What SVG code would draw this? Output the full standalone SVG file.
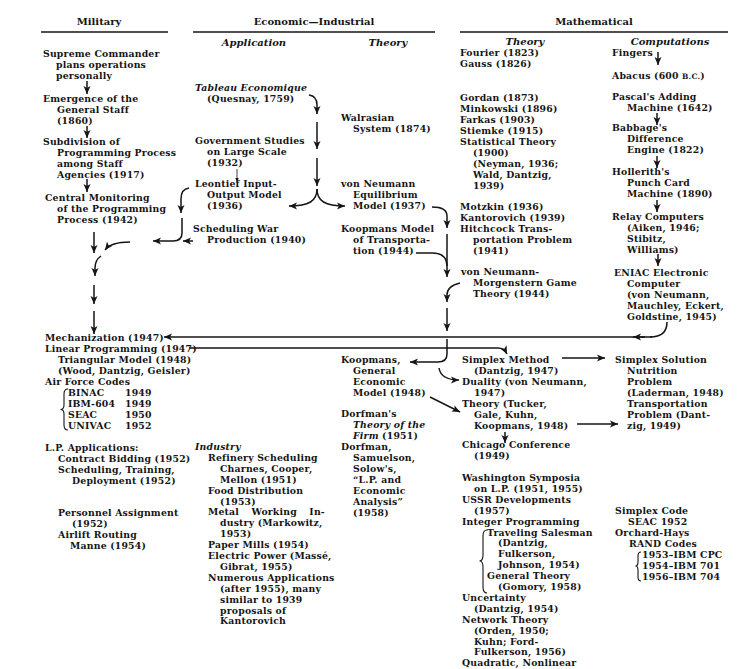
<svg xmlns="http://www.w3.org/2000/svg" width="749" height="669" viewBox="0 0 749 669">
<defs>
<style>
text{font-family:"DejaVu Serif","Liberation Serif",serif;fill:#151515}
.t{font-size:9.3px;font-weight:bold;letter-spacing:0.2px}
.h{font-size:10px;font-weight:bold}
.hi{font-size:10px;font-weight:bold;font-style:italic}
.i{font-style:italic}
.sc{font-size:7.5px}
.rule{stroke:#151515;stroke-width:1.3}
.c{fill:none;stroke:#151515;stroke-width:1.5;marker-end:url(#ah)}
.n{fill:none;stroke:#151515;stroke-width:1.5}
.thin{fill:none;stroke:#151515;stroke-width:0.8;marker-end:url(#ahs)}
.br{fill:none;stroke:#151515;stroke-width:1.1}
</style>
<marker id="ah" markerUnits="userSpaceOnUse" markerWidth="9" markerHeight="8" refX="8" refY="4" orient="auto"><path d="M0,0.5 L8,4 L0,7.5 L2,4 Z" fill="#151515"/></marker>
<marker id="ahs" markerUnits="userSpaceOnUse" markerWidth="5" markerHeight="4" refX="4.5" refY="2" orient="auto"><path d="M0,0 L4.5,2 L0,4 Z" fill="#151515"/></marker>
</defs>
<rect width="749" height="669" fill="#fff"/>

<g id="h-military"><text class="h" x="99" y="25" text-anchor="middle">Military</text><line class="rule" x1="41" y1="32" x2="168" y2="32"/></g>
<g id="h-economic"><text class="h" x="314" y="25" text-anchor="middle">Economic—Industrial</text><line class="rule" x1="193" y1="32" x2="435" y2="32"/>
<text class="hi" x="254" y="46" text-anchor="middle">Application</text><text class="hi" x="388" y="46" text-anchor="middle">Theory</text></g>
<g id="h-math"><text class="h" x="594" y="25" text-anchor="middle">Mathematical</text><line class="rule" x1="460" y1="32" x2="728" y2="32"/>
<text class="hi" x="525" y="44.5" text-anchor="middle">Theory</text><text class="hi" x="670" y="44.5" text-anchor="middle">Computations</text></g>

<g id="supreme"><text class="t" x="43" y="57">Supreme Commander</text><text class="t" x="56" y="68">plans operations</text><text class="t" x="56" y="79">personally</text></g>
<g id="general-staff"><text class="t" x="43" y="102">Emergence of the</text><text class="t" x="57" y="113">General Staff</text><text class="t" x="57" y="124">(1860)</text></g>
<g id="subdivision"><text class="t" x="43" y="145">Subdivision of</text><text class="t" x="57" y="156">Programming Process</text><text class="t" x="57" y="167">among Staff</text><text class="t" x="57" y="178">Agencies (1917)</text></g>
<g id="central"><text class="t" x="45" y="201">Central Monitoring</text><text class="t" x="57" y="212">of the Programming</text><text class="t" x="57" y="223">Process (1942)</text></g>

<g id="mechanization"><text class="t" x="45" y="341">Mechanization (1947)</text></g>
<g id="linear-programming"><text class="t" x="45" y="352">Linear Programming (1947)</text><text class="t" x="58" y="363">Triangular Model (1948)</text><text class="t" x="58" y="374">(Wood, Dantzig, Geisler)</text><text class="t" x="45" y="385">Air Force Codes</text>
<path class="br" d="M68,389 Q64,389 64,394 L64,405 Q64,409.5 60.5,409.5 Q64,409.5 64,414 L64,425 Q64,430 68,430"/>
<text class="t" x="68" y="396">BINAC</text><text class="t" x="125" y="396">1949</text>
<text class="t" x="68" y="407">IBM-604</text><text class="t" x="125" y="407">1949</text>
<text class="t" x="68" y="418">SEAC</text><text class="t" x="125" y="418">1950</text>
<text class="t" x="68" y="429">UNIVAC</text><text class="t" x="125" y="429">1952</text></g>
<g id="lp-applications"><text class="t" x="45" y="451">L.P. Applications:</text><text class="t" x="58" y="462">Contract Bidding (1952)</text><text class="t" x="58" y="473">Scheduling, Training,</text><text class="t" x="72" y="484">Deployment (1952)</text>
<text class="t" x="58" y="516">Personnel Assignment</text><text class="t" x="72" y="527">(1952)</text><text class="t" x="58" y="538">Airlift Routing</text><text class="t" x="70" y="549">Manne (1954)</text></g>

<g id="tableau"><text class="t i" x="195" y="91">Tableau Economique</text><text class="t" x="207" y="102">(Quesnay, 1759)</text></g>
<g id="gov-studies"><text class="t" x="195" y="144">Government Studies</text><text class="t" x="207" y="155">on Large Scale</text><text class="t" x="207" y="166">(1932)</text></g>
<g id="leontief"><text class="t" x="195" y="187">Leontief Input-</text><text class="t" x="207" y="198">Output Model</text><text class="t" x="207" y="209">(1936)</text></g>
<g id="war-production"><text class="t" x="193" y="232">Scheduling War</text><text class="t" x="207" y="243">Production (1940)</text></g>
<g id="industry"><text class="t i" x="195" y="450">Industry</text>
<text class="t" x="208" y="460.9">Refinery Scheduling</text><text class="t" x="220" y="471.8">Charnes, Cooper,</text><text class="t" x="220" y="482.7">Mellon (1951)</text>
<text class="t" x="208" y="493.6">Food Distribution</text><text class="t" x="220" y="504.5">(1953)</text>
<text class="t" x="208" y="515.4" word-spacing="9">Metal Working In-</text><text class="t" x="220" y="526.3">dustry (Markowitz,</text><text class="t" x="220" y="537.2">1953)</text>
<text class="t" x="208" y="548.1">Paper Mills (1954)</text>
<text class="t" x="208" y="559">Electric Power (Massé,</text><text class="t" x="220" y="569.9">Gibrat, 1955)</text>
<text class="t" x="208" y="580.8">Numerous Applications</text><text class="t" x="220" y="591.7">(after 1955), many</text><text class="t" x="220" y="602.6">similar to 1939</text><text class="t" x="220" y="613.5">proposals of</text><text class="t" x="220" y="624.4">Kantorovich</text></g>

<g id="walras"><text class="t" x="341" y="121">Walrasian</text><text class="t" x="353" y="132">System (1874)</text></g>
<g id="vn-equilibrium"><text class="t" x="341" y="187">von Neumann</text><text class="t" x="353" y="198">Equilibrium</text><text class="t" x="353" y="209">Model (1937)</text></g>
<g id="koopmans-transport"><text class="t" x="341" y="232">Koopmans Model</text><text class="t" x="353" y="243">of Transporta-</text><text class="t" x="353" y="254">tion (1944)</text></g>
<g id="koopmans-general"><text class="t" x="341" y="363">Koopmans,</text><text class="t" x="353" y="374">General</text><text class="t" x="353" y="385">Economic</text><text class="t" x="353" y="396">Model (1948)</text></g>
<g id="dorfman-firm"><text class="t" x="341" y="417">Dorfman's</text><text class="t i" x="353" y="428">Theory of the</text><text class="t" x="353" y="439"><tspan class="i">Firm</tspan> (1951)</text></g>
<g id="dorfman-lp"><text class="t" x="341" y="450">Dorfman,</text><text class="t" x="353" y="461">Samuelson,</text><text class="t" x="353" y="472">Solow's,</text><text class="t" x="353" y="483">“L.P. and</text><text class="t" x="353" y="494">Economic</text><text class="t" x="353" y="505">Analysis”</text><text class="t" x="353" y="516">(1958)</text></g>

<g id="fourier-gauss"><text class="t" x="460" y="56">Fourier (1823)</text><text class="t" x="460" y="67">Gauss (1826)</text></g>
<g id="gordan-statistical"><text class="t" x="460" y="101">Gordan (1873)</text><text class="t" x="460" y="112">Minkowski (1896)</text><text class="t" x="460" y="123">Farkas (1903)</text><text class="t" x="460" y="134">Stiemke (1915)</text><text class="t" x="460" y="145">Statistical Theory</text><text class="t" x="473" y="156">(1900)</text><text class="t" x="473" y="167">(Neyman, 1936;</text><text class="t" x="473" y="178">Wald, Dantzig,</text><text class="t" x="473" y="189">1939)</text></g>
<g id="motzkin-hitchcock"><text class="t" x="460" y="210">Motzkin (1936)</text><text class="t" x="460" y="221">Kantorovich (1939)</text><text class="t" x="460" y="232">Hitchcock Trans-</text><text class="t" x="473" y="243">portation Problem</text><text class="t" x="473" y="254">(1941)</text></g>
<g id="vn-morgenstern"><text class="t" x="461" y="275">von Neumann-</text><text class="t" x="473" y="286">Morgenstern Game</text><text class="t" x="473" y="297">Theory (1944)</text></g>
<g id="simplex-method"><text class="t" x="462" y="363">Simplex Method</text><text class="t" x="474" y="374">(Dantzig, 1947)</text></g>
<g id="duality"><text class="t" x="462" y="385">Duality (von Neumann,</text><text class="t" x="474" y="396">1947)</text></g>
<g id="theory-tgk"><text class="t" x="462" y="407">Theory (Tucker,</text><text class="t" x="474" y="418">Gale, Kuhn,</text><text class="t" x="474" y="429">Koopmans, 1948)</text></g>
<g id="chicago"><text class="t" x="462" y="448">Chicago Conference</text><text class="t" x="474" y="459">(1949)</text></g>
<g id="later-developments"><text class="t" x="462" y="481">Washington Symposia</text><text class="t" x="474" y="491.9">on L.P. (1951, 1955)</text><text class="t" x="462" y="502.8">USSR Developments</text><text class="t" x="474" y="513.7">(1957)</text><text class="t" x="462" y="524.6">Integer Programming</text>
<path class="br" d="M487,530 Q483,530 483,536 L483,555 Q483,561 479.5,561 Q483,561 483,567 L483,587 Q483,593 487,593"/>
<text class="t" x="487" y="535.5">Traveling Salesman</text><text class="t" x="498" y="546.4">(Dantzig,</text><text class="t" x="498" y="557.3">Fulkerson,</text><text class="t" x="498" y="568.2">Johnson, 1954)</text><text class="t" x="487" y="579.1">General Theory</text><text class="t" x="498" y="590">(Gomory, 1958)</text>
<text class="t" x="462" y="600.9">Uncertainty</text><text class="t" x="474" y="611.8">(Dantzig, 1954)</text><text class="t" x="462" y="622.7">Network Theory</text><text class="t" x="474" y="633.6">(Orden, 1950;</text><text class="t" x="474" y="644.5">Kuhn; Ford-</text><text class="t" x="474" y="655.4">Fulkerson, 1956)</text><text class="t" x="462" y="666.3">Quadratic, Nonlinear</text></g>

<g id="fingers"><text class="t" x="612" y="56">Fingers</text></g>
<g id="abacus"><text class="t" x="612" y="79">Abacus (600 <tspan class="sc">B.C.</tspan>)</text></g>
<g id="pascal"><text class="t" x="612" y="100">Pascal's Adding</text><text class="t" x="627" y="111">Machine (1642)</text></g>
<g id="babbage"><text class="t" x="612" y="131">Babbage's</text><text class="t" x="627" y="142">Difference</text><text class="t" x="627" y="153">Engine (1822)</text></g>
<g id="hollerith"><text class="t" x="612" y="175">Hollerith's</text><text class="t" x="627" y="186">Punch Card</text><text class="t" x="627" y="197">Machine (1890)</text></g>
<g id="relay"><text class="t" x="612" y="220">Relay Computers</text><text class="t" x="627" y="231">(Aiken, 1946;</text><text class="t" x="627" y="242">Stibitz,</text><text class="t" x="627" y="253">Williams)</text></g>
<g id="eniac"><text class="t" x="614" y="276">ENIAC Electronic</text><text class="t" x="627" y="287">Computer</text><text class="t" x="627" y="298">(von Neumann,</text><text class="t" x="627" y="309">Mauchley, Eckert,</text><text class="t" x="627" y="320">Goldstine, 1945)</text></g>
<g id="simplex-solution"><text class="t" x="615" y="363">Simplex Solution</text><text class="t" x="627" y="374">Nutrition</text><text class="t" x="627" y="385">Problem</text><text class="t" x="627" y="396">(Laderman, 1948)</text><text class="t" x="627" y="407">Transportation</text><text class="t" x="627" y="418">Problem (Dant-</text><text class="t" x="627" y="429">zig, 1949)</text></g>
<g id="simplex-code"><text class="t" x="615" y="514">Simplex Code</text><text class="t" x="628" y="525">SEAC 1952</text><text class="t" x="615" y="536">Orchard-Hays</text><text class="t" x="629" y="547">RAND Codes</text>
<path class="br" d="M641,552 Q638,552 638,556 L638,562 Q638,566 635.5,566 Q638,566 638,570 L638,577 Q638,581 641,581"/>
<text class="t" x="642" y="558">1953–IBM CPC</text><text class="t" x="642" y="569">1954–IBM 701</text><text class="t" x="642" y="580">1956–IBM 704</text></g>

<g id="connectors">
<path class="c" d="M87,81 L87,94"/>
<path class="c" d="M87,126 L87,138"/>
<path class="c" d="M87,179 L87,192"/>
<path class="c" d="M94,232 L94,253"/>
<path class="c" d="M189,188 Q181,189 181,199 L181,213"/>
<path class="c" d="M182,218 L182,233 Q182,241 173,241 L153,241"/>
<path class="c" d="M193,241 L183,241"/>
<path class="c" d="M130,242 Q111,242 105,250"/>
<path class="c" d="M101,256 Q95,260 95,268 L95,276"/>
<path class="c" d="M94,285 L94,304"/>
<path class="c" d="M94,311 L94,334"/>
<path class="c" d="M309,95 Q317,96 317,105 L317,114"/>
<path class="c" d="M317,122 L317,149"/>
<path class="c" d="M317,158 L317,186"/>
<path class="c" d="M317,189 C317,201 309,206 289,206"/>
<path class="c" d="M317,189 C317,201 325,206 345,206"/>
<path class="thin" d="M237,169 L237,182"/>
<path class="c" d="M432,207 Q447,207 447,216 L447,228"/>
<path class="c" d="M447,234 L447,277"/>
<path class="n" d="M416,253 L432,253 Q447,253 447,266"/>
<path class="c" d="M460,283 Q447,286 447,295 L447,302"/>
<path class="c" d="M447,308 L447,331"/>
<path class="c" d="M652,337 L164,337"/>
<path class="n" d="M667,322 Q667,337 650,337"/>
<path class="c" d="M645,337 L633,337"/>
<path class="c" d="M189,348 L498,348 Q504,348 507,354"/>
<path class="c" d="M447,339 L447,354 Q447,362 438,362 L410,362"/>
<path class="c" d="M439,368 Q441,380 459,380"/>
<path class="c" d="M430,397 L460,412"/>
<path class="c" d="M505,432 L505,443"/>
<path class="c" d="M562,358 L605,358"/>
<path class="c" d="M577,424 L618,424"/>
<path class="c" d="M658,52 L658,65"/>
<path class="c" d="M657,113 L657,125"/>
<path class="c" d="M657,156 L657,168"/>
<path class="c" d="M657,200 L657,212"/>
<path class="c" d="M658,254 L658,266"/>
</g>
</svg>
